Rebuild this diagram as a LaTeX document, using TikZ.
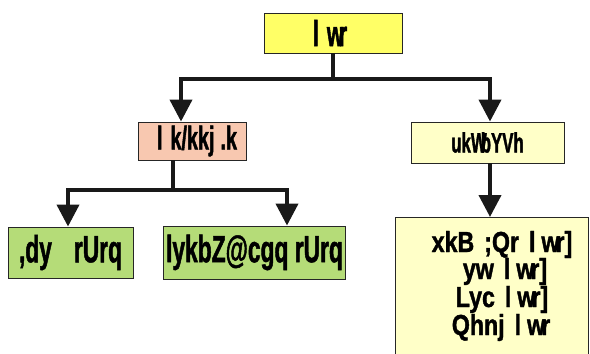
\documentclass[tikz,border=0pt]{standalone}
\usepackage{fontspec}
\newfontfamily\kf{Liberation Sans}[FakeStretch=0.6,FakeBold=1.2]
\newfontfamily\kfw{Liberation Sans}[FakeStretch=0.8,FakeBold=1.3]
\usetikzlibrary{arrows.meta}
\definecolor{cyel}{RGB}{255,255,102}
\definecolor{cpink}{RGB}{248,200,176}
\definecolor{clight}{RGB}{255,255,200}
\definecolor{cgreen}{RGB}{181,220,120}
\begin{document}
\begin{tikzpicture}[x=1pt,y=-1pt,
 box/.style={draw=black!85,line width=0.9pt,inner sep=0pt},
 conn/.style={line width=4pt,draw=black!90},
 arr/.style={conn,-{Triangle[width=22pt,length=22pt]}},
 fs/.style={font=\kf\bfseries\fontsize{#1}{#1}\selectfont},
 fw/.style={font=\kfw\bfseries\fontsize{#1}{#1}\selectfont}]
\useasboundingbox (0,0) rectangle (590,354);
\node[box,fill=cyel,minimum width=138pt,minimum height=40pt,fs=36] (top) at (333,33) {\hspace{-6pt}l\hspace{8pt}w\kern-5pt r};
\node[box,fill=cpink,minimum width=108pt,minimum height=38pt,fs=33] (sad) at (192,141) {\hspace{10pt}l\hspace{8pt}k/kkj\hspace{6pt}.k};
\node[box,fill=clight,minimum width=153pt,minimum height=41pt,fs=28] (not) at (487.5,142.5) {ukW\kern-6pt bYVh};
\node[box,fill=cgreen,minimum width=125pt,minimum height=51pt,fs=38] (g1) at (70.5,252.5) {,dy\hspace{22pt}rUrq};
\node[box,fill=cgreen,minimum width=182pt,minimum height=53pt,fs=38] (g2) at (254.5,252.5) {lykbZ@cgq rUrq};
\node[box,fill=clight,minimum width=193pt,minimum height=150pt,anchor=north west] (bot) at (395,217) {};
\node[fw=29,anchor=base] (b1) at (502,252) {xkB\hspace{10pt};Qr\hspace{10pt}l\hspace{6pt}w\kern-4pt r]};
\node[fw=29,anchor=base] (b2) at (505,279) {yw\hspace{10pt}l\hspace{6pt}w\kern-4pt r]};
\node[fw=29,anchor=base] (b3) at (502,307) {Lyc\hspace{10pt}l\hspace{6pt}w\kern-4pt r]};
\node[fw=29,anchor=base] (b4) at (501,335) {Qhnj\hspace{10pt}l\hspace{6pt}w\kern-4pt r};
\draw[conn] (top.south) -- ++(0,26) coordinate (j1);
\draw[arr] (j1) -| ([xshift=-11pt]sad.north);
\draw[arr] (j1) -| ([xshift=2.5pt]not.north);
\draw[conn] ([xshift=-19pt]sad.south) -- ++(0,30) coordinate (j2);
\draw[arr] (j2) -| ([xshift=-2.5pt]g1.north);
\draw[arr] (j2) -| ([xshift=32.5pt]g2.north);
\draw[arr] ([xshift=2.5pt]not.south) -- ([xshift=2.5pt]not.south |- bot.north);
\end{tikzpicture}
\end{document}
